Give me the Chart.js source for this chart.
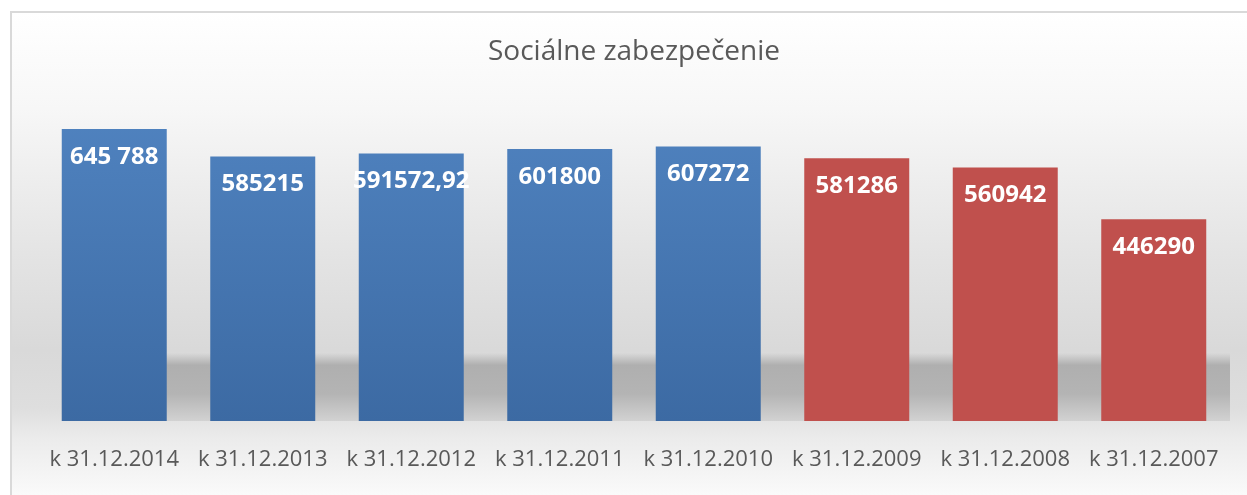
<!DOCTYPE html>
<html>
<head>
<meta charset="utf-8">
<script src="https://cdn.jsdelivr.net/npm/chart.js@4.4.0/dist/chart.umd.min.js"></script>
<style>
  body { margin: 0; background: #fff; }
  #wrap { width: 1247px; height: 495px; }
</style>
</head>
<body>
<div id="wrap"><canvas id="chart" width="1247" height="495"></canvas></div>
<script>
const categories = ['k 31.12.2014', 'k 31.12.2013', 'k 31.12.2012', 'k 31.12.2011',
                    'k 31.12.2010', 'k 31.12.2009', 'k 31.12.2008', 'k 31.12.2007']
const values = [645788, 585215, 591572.92, 601800, 607272, 581286, 560942, 446290]
const valueLabels = ['645 788', '585215', '591572,92', '601800', '607272', '581286', '560942', '446290']

const firstRed = 5
const textGrey = '#595959'

// excel-like background: grey gradient box, border and floor shadow
const backdrop = {
    id: 'backdrop',
    beforeDraw(chart) {
        const ctx = chart.ctx
        ctx.save()
        ctx.fillStyle = '#ffffff'
        ctx.fillRect(0, 0, chart.width, chart.height)

        let g = ctx.createLinearGradient(0, 12, 0, chart.height)
        g.addColorStop(0, '#ffffff')
        g.addColorStop(0.2, '#f7f7f7')
        g.addColorStop(0.5, '#e4e4e4')
        g.addColorStop(0.7, '#d9d9d9')
        g.addColorStop(0.82, '#dedede')
        g.addColorStop(0.88, '#ebebeb')
        g.addColorStop(1, '#fafafa')
        ctx.fillStyle = g
        ctx.fillRect(11, 12, chart.width, chart.height)

        ctx.strokeStyle = '#d9d9d9'
        ctx.lineWidth = 2
        ctx.strokeRect(11, 12, chart.width + 10, chart.height + 10)
        ctx.restore()
    },
    beforeDatasetsDraw(chart) {
        const ctx = chart.ctx
        const area = chart.chartArea
        const bar = chart.getDatasetMeta(0).data[0]
        const left = bar.x - bar.width / 2
        const top = area.bottom - 68
        ctx.save()
        let g = ctx.createLinearGradient(0, top, 0, area.bottom)
        g.addColorStop(0, 'rgba(175,175,175,0)')
        g.addColorStop(0.18, 'rgba(175,175,175,1)')
        g.addColorStop(0.6, 'rgba(180,180,180,1)')
        g.addColorStop(1, 'rgba(210,210,210,1)')
        ctx.fillStyle = g
        ctx.fillRect(left, top, area.right + 2 - left, area.bottom - top)
        ctx.restore()
    }
}

const valueText = {
    id: 'valueText',
    afterDatasetsDraw(chart) {
        const ctx = chart.ctx
        ctx.save()
        ctx.fillStyle = '#ffffff'
        ctx.font = 'bold 24px "Open Sans"'
        ctx.textAlign = 'center'
        ctx.textBaseline = 'middle'
        chart.getDatasetMeta(0).data.forEach((el, i) => {
            ctx.fillText(valueLabels[i], el.x, el.y + 28)
        })
        ctx.restore()
    }
}

const barColor = (c) => {
    if (c.dataIndex >= firstRed) return '#c0504d'
    const area = c.chart.chartArea
    if (!area) return '#4a7bb7'
    let g = c.chart.ctx.createLinearGradient(0, area.top, 0, area.bottom)
    g.addColorStop(0, '#5083c0')
    g.addColorStop(1, '#3c6aa3')
    return g
}

new Chart(document.getElementById('chart'), {
    type: 'bar',
    data: {
        labels: categories,
        datasets: [{
            data: values,
            backgroundColor: barColor,
            borderWidth: 0,
            categoryPercentage: 1,
            barPercentage: 0.707
        }]
    },
    options: {
        responsive: false,
        animation: false,
        layout: { padding: { left: 40, right: 19, top: 0, bottom: 0 } },
        plugins: {
            legend: { display: false },
            tooltip: { enabled: false },
            title: {
                display: true,
                text: 'Sociálne zabezpečenie',
                color: textGrey,
                font: { family: '"Open Sans"', size: 28, weight: 'normal' },
                padding: { top: 35, bottom: 36 }
            }
        },
        scales: {
            x: {
                grid: { display: false, drawTicks: false },
                border: { display: false },
                ticks: {
                    color: textGrey,
                    font: { family: '"Open Sans"', size: 22 },
                    padding: 26,
                    maxRotation: 0,
                    autoSkip: false
                },
                afterFit(scale) { scale.height = 74 }
            },
            y: {
                display: false,
                min: 0,
                max: 700000
            }
        }
    },
    plugins: [backdrop, valueText]
})
</script>
</body>
</html>
